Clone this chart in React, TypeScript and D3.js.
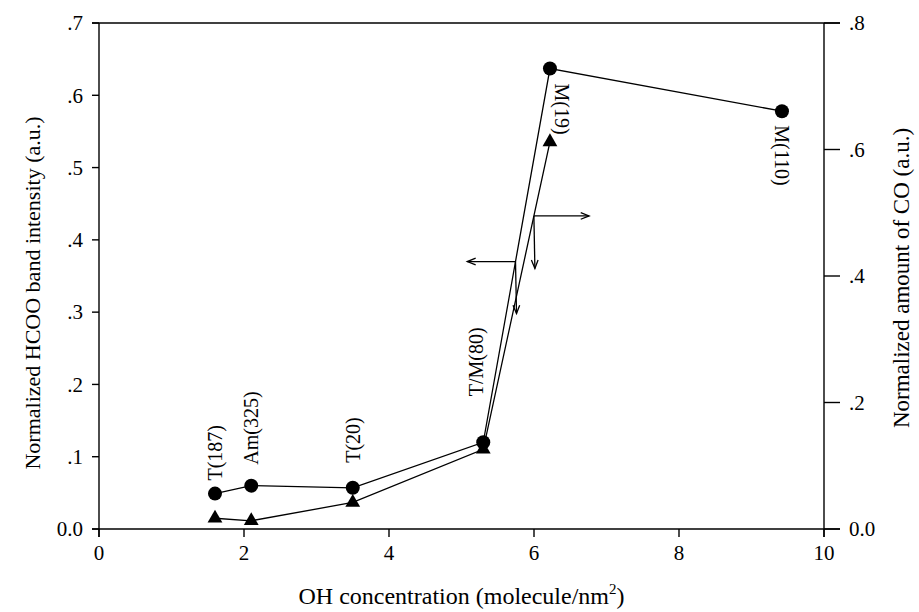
import React from 'react';
import * as d3 from 'd3';

// OH concentration (molecule/nm2) for each sample
const ohHcoo = [1.6, 2.1, 3.5, 5.3, 6.22, 9.42];
const hcooIntensity = [0.049, 0.06, 0.057, 0.12, 0.637, 0.578];
const ohCo = [1.6, 2.1, 3.5, 5.3, 6.22];
const coAmount = [0.017, 0.013, 0.042, 0.126, 0.612];
const sampleLabels = ['T(187)', 'Am(325)', 'T(20)', 'T/M(80)', 'M(19)', 'M(110)'];

const xTicks = [0, 2, 4, 6, 8, 10];
const leftTicks = [0, 0.1, 0.2, 0.3, 0.4, 0.5, 0.6, 0.7];
const rightTicks = [0, 0.2, 0.4, 0.6, 0.8];

// label nudges (px): dx, gap from point, rotation
const labelPlace = [
  { dx: 0, gap: 13, rot: -90 },
  { dx: 0, gap: 21, rot: -90 },
  { dx: 0, gap: 25, rot: -90 },
  { dx: -7, gap: 46, rot: -90 },
  { dx: 12, gap: 15, rot: 90 },
  { dx: 0, gap: 14, rot: 90 },
];

const W = 919, H = 612;
const m = { left: 99, right: 824, top: 23, bottom: 529 };
const font = '"Liberation Serif", "Times New Roman", serif';

const fmt = (v: number) => (v === 0 ? '0.0' : d3.format('.1f')(v).replace(/^0/, ''));

function Arrow({ x1, y1, x2, y2 }: { x1: number; y1: number; x2: number; y2: number }) {
  const a = Math.atan2(y2 - y1, x2 - x1);
  const L = 9, s = 0.38;
  const p1 = [x2 - L * Math.cos(a - s), y2 - L * Math.sin(a - s)];
  const p2 = [x2 - L * Math.cos(a + s), y2 - L * Math.sin(a + s)];
  return (
    <g stroke="#000" strokeWidth={1.3} fill="none">
      <line x1={x1} y1={y1} x2={x2} y2={y2} />
      <path d={`M${p1[0]},${p1[1]}L${x2},${y2}L${p2[0]},${p2[1]}`} />
    </g>
  );
}

export default function App() {
  const x = d3.scaleLinear().domain([0, 10]).range([m.left, m.right]);
  const yL = d3.scaleLinear().domain([0, 0.7]).range([m.bottom, m.top]);
  const yR = d3.scaleLinear().domain([0, 0.8]).range([m.bottom, m.top]);

  const hcoo = ohHcoo.map((d, i) => [x(d), yL(hcooIntensity[i])] as [number, number]);
  const co = ohCo.map((d, i) => [x(d), yR(coAmount[i])] as [number, number]);
  const line = d3.line();
  const tri = d3.symbol().type(d3.symbolTriangle).size(95)();

  // x on a polyline segment at a given pixel y
  const xAt = (pts: [number, number][], i: number, py: number) => {
    const [a, b] = [pts[i], pts[i + 1]];
    return a[0] + ((py - a[1]) / (b[1] - a[1])) * (b[0] - a[0]);
  };
  // arrows pointing at the axis each series belongs to
  const hY = yL(0.37);
  const hX = xAt(hcoo, 3, hY);
  const cY = yR(0.495);
  const cX = xAt(co, 3, cY);

  return (
    <svg width={W} height={H} style={{ position: 'absolute', left: 0, top: 0, background: '#fff' }} fontFamily={font}>
      {/* frame lines */}
      <g stroke="#000" strokeWidth={1.4}>
        <line x1={m.left - 7} x2={m.right + 16} y1={m.top} y2={m.top} />
        <line x1={m.left - 7} x2={m.right + 16} y1={m.bottom} y2={m.bottom} />
        <line x1={m.left} x2={m.left} y1={m.top} y2={m.bottom + 8} />
        <line x1={m.right} x2={m.right} y1={m.top} y2={m.bottom + 8} />
        {leftTicks.map((t) => (
          <line key={'l' + t} x1={m.left - 7} x2={m.left} y1={yL(t)} y2={yL(t)} />
        ))}
        {rightTicks.map((t) => (
          <line key={'r' + t} x1={m.right} x2={m.right + 16} y1={yR(t)} y2={yR(t)} />
        ))}
        {xTicks.map((t) => (
          <line key={'x' + t} x1={x(t)} x2={x(t)} y1={m.bottom} y2={m.bottom + 8} />
        ))}
      </g>
      <g fontSize={21} fill="#000">
        {leftTicks.map((t) => (
          <text key={'lt' + t} x={m.left - 16} y={yL(t)} dy="0.35em" textAnchor="end">{fmt(t)}</text>
        ))}
        {rightTicks.map((t) => (
          <text key={'rt' + t} x={m.right + 25} y={yR(t)} dy="0.35em">{fmt(t)}</text>
        ))}
        {xTicks.map((t) => (
          <text key={'xt' + t} x={x(t)} y={m.bottom + 31} textAnchor="middle">{t}</text>
        ))}
      </g>

      {/* axis titles */}
      <text x={(m.left + m.right) / 2} y={604} textAnchor="middle" fontSize={24}>
        OH concentration (molecule/nm<tspan dy={-10} fontSize={15}>2</tspan><tspan dy={10}>)</tspan>
      </text>
      <text transform={`translate(40,${(m.top + m.bottom) / 2 + 17}) rotate(-90)`} textAnchor="middle" fontSize={22}>
        Normalized HCOO band intensity (a.u.)
      </text>
      <text transform={`translate(909,278) rotate(-90)`} textAnchor="middle" fontSize={23}>
        Normalized amount of CO (a.u.)
      </text>

      {/* series */}
      <path d={line(hcoo) || ''} fill="none" stroke="#000" strokeWidth={1.3} />
      <path d={line(co) || ''} fill="none" stroke="#000" strokeWidth={1.3} />
      {hcoo.map(([px, py], i) => (
        <circle key={'c' + i} cx={px} cy={py} r={7} fill="#000" />
      ))}
      {co.map(([px, py], i) => (
        <path key={'t' + i} d={tri || ''} transform={`translate(${px},${py})`} fill="#000" />
      ))}

      {/* sample labels */}
      {hcoo.map(([px, py], i) => {
        const p = labelPlace[i];
        const ty = p.rot < 0 ? py - p.gap : py + p.gap;
        return (
          <text
            key={'s' + i}
            transform={`translate(${px + p.dx},${ty}) rotate(${p.rot})`}
            dy="0.35em"
            fontSize={20}
          >
            {sampleLabels[i]}
          </text>
        );
      })}

      {/* axis arrows */}
      <Arrow x1={hX} y1={hY} x2={x(5.08)} y2={hY} />
      <Arrow x1={hX} y1={hY} x2={hX + 1} y2={yL(0.298)} />
      <Arrow x1={cX} y1={cY} x2={x(6.76)} y2={cY} />
      <Arrow x1={cX} y1={cY} x2={cX + 1} y2={yR(0.412)} />
    </svg>
  );
}
